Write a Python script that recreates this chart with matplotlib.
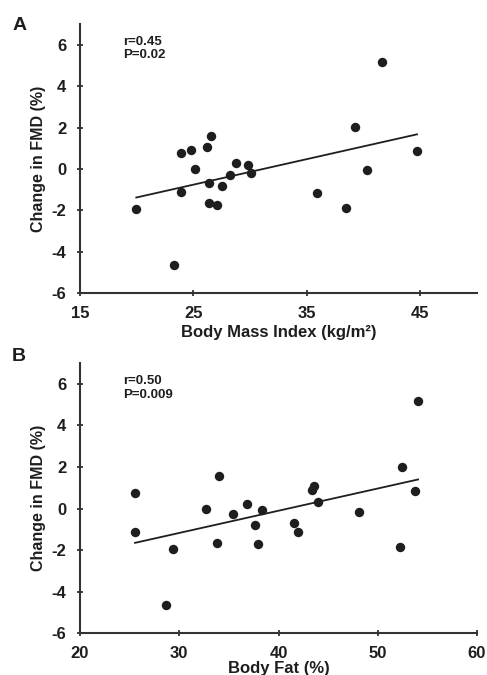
import numpy as np
import matplotlib
matplotlib.use('Agg')
import matplotlib.pyplot as plt

plt.rcParams['font.family'] = ['Liberation Sans', 'DejaVu Sans']
plt.rcParams['font.weight'] = 'bold'
plt.rcParams['axes.labelweight'] = 'bold'
plt.rcParams['axes.unicode_minus'] = False

# panel A: BMI vs change in FMD
bmi = [19.96, 23.26, 23.94, 23.94, 24.82, 25.12, 26.21, 26.53, 26.36, 26.36, 27.06,
       27.51, 28.25, 28.72, 29.81, 30.04, 35.88, 38.42, 39.22, 40.31, 41.64, 44.71]
fmd_a = [-1.94, -4.63, 0.75, -1.13, 0.91, -0.02, 1.07, 1.58, -0.68, -1.66, -1.73,
         -0.80, -0.28, 0.31, 0.20, -0.18, -1.15, -1.87, 2.02, -0.07, 5.15, 0.86]

# panel B: body fat vs change in FMD
fat = [25.54, 25.54, 28.66, 29.40, 32.68, 33.83, 34.03, 35.44, 36.81, 37.62, 37.89,
       38.32, 41.61, 41.98, 43.39, 43.56, 43.99, 48.09, 52.28, 52.45, 53.76, 54.06]
fmd_b = [0.73, -1.13, -4.64, -1.93, -0.04, -1.64, 1.58, -0.28, 0.20, -0.79, -1.69,
         -0.09, -0.68, -1.13, 0.91, 1.07, 0.31, -0.18, -1.87, 2.01, 0.86, 5.15]

stats_a = 'r=0.45\nP=0.02'
stats_b = 'r=0.50\nP=0.009'

ink = '#1e1e1e'

fig = plt.figure(figsize=(4.87, 6.75), dpi=100)
ax1 = fig.add_axes([0.1643, 0.5655, 0.8152, 0.3989])
ax2 = fig.add_axes([0.1643, 0.0618, 0.8152, 0.4004])


def panel(ax, x, y, xlim, xticks, xlabel, stats, lpad):
    x = np.array(x)
    y = np.array(y)
    ax.scatter(x, y, s=46, color=ink, zorder=3, linewidths=0)
    m, c = np.polyfit(x, y, 1)
    xf = np.array([x.min(), x.max()])
    ax.plot(xf, m * xf + c, color=ink, lw=1.3)
    ax.set_xlim(*xlim)
    ax.set_ylim(-6, 7)
    ax.set_xticks(xticks)
    ax.set_yticks([-6, -4, -2, 0, 2, 4, 6])
    for s in ['top', 'right']:
        ax.spines[s].set_visible(False)
    for s in ['left', 'bottom']:
        ax.spines[s].set_linewidth(1.5)
        ax.spines[s].set_color('#333333')
    ax.tick_params(direction='inout', length=4, width=1.3, color='#333333',
                   labelsize=12, labelcolor=ink)
    ax.tick_params(axis='y', pad=8)
    ax.tick_params(axis='x', pad=7)
    ax.set_xlabel(xlabel, fontsize=12, color=ink, labelpad=lpad)
    ax.set_ylabel('Change in FMD (%)', fontsize=11.5, color=ink, labelpad=4)
    ax.text(0.108, 0.955, stats, transform=ax.transAxes, fontsize=9.5,
            color=ink, va='top', ha='left', linespacing=1.15)


panel(ax1, bmi, fmd_a, (15, 50), [15, 25, 35, 45], 'Body Mass Index (kg/m²)', stats_a, 3)
panel(ax2, fat, fmd_b, (20, 60), [20, 30, 40, 50, 60], 'Body Fat (%)', stats_b, 0)

fig.text(0.025, 0.975, 'A', fontsize=14, color=ink, va='top')
fig.text(0.025, 0.485, 'B', fontsize=14, color=ink, va='top')

fig.savefig('out.png', dpi=100)
